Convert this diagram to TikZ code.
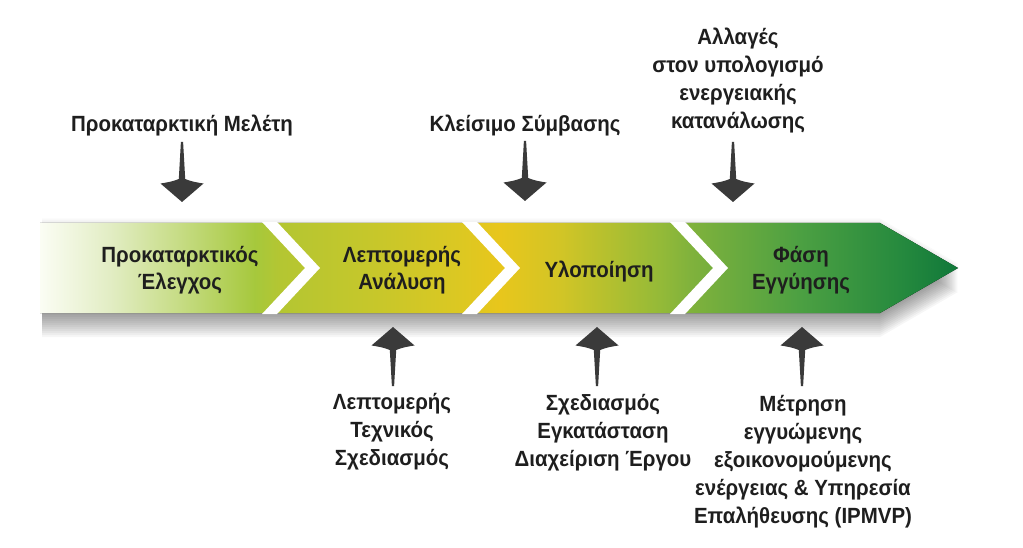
\documentclass[tikz,border=0pt]{standalone}
\usepackage{fontspec}
\setmainfont{Liberation Sans}[FakeStretch=0.93]
\definecolor{txt}{HTML}{1E1E1E}
\definecolor{arrowgray}{HTML}{3A3A3A}
\definecolor{s0}{HTML}{FBFDF4}
\definecolor{s1}{HTML}{E2EDC4}
\definecolor{s2}{HTML}{C6DC84}
\definecolor{s3}{HTML}{A6C83C}
\definecolor{s4}{HTML}{B4C632}
\definecolor{s5}{HTML}{C8C72A}
\definecolor{s6}{HTML}{DCC822}
\definecolor{s7}{HTML}{E8C61C}
\definecolor{s8}{HTML}{D2C526}
\definecolor{s9}{HTML}{94BA38}
\definecolor{s10}{HTML}{80B23C}
\definecolor{s11}{HTML}{4CA042}
\definecolor{s12}{HTML}{268A3E}
\definecolor{s13}{HTML}{10783A}
\pgfdeclarehorizontalshading{bandshade}{100bp}{%
color(0bp)=(s0); color(25bp)=(s0); color(28.81bp)=(s1); color(32.63bp)=(s2);
color(36.71bp)=(s3); color(38.07bp)=(s4); color(43.52bp)=(s5); color(47.88bp)=(s6);
color(50.05bp)=(s7); color(53.32bp)=(s8); color(58.77bp)=(s9); color(60.4bp)=(s10);
color(66.39bp)=(s11); color(71.84bp)=(s12); color(75bp)=(s13); color(100bp)=(s13)}
\tikzset{
  lbl/.style={font=\bfseries\fontsize{22}{28}\selectfont, text=txt, align=center, inner sep=0pt, anchor=base},
  chev/.style={fill=white},
  pics/downarrow/.style={code={\fill[arrowgray] (-1.1,-60) -- (1.1,-60) -- (3.2,-23)
      .. controls (9,-20.5) and (15,-19.5) .. (21.5,-18.5) -- (0,0) -- (-21.5,-18.5)
      .. controls (-15,-19.5) and (-9,-20.5) .. (-3.2,-23) -- cycle;}},
  pics/uparrow/.style={code={\fill[arrowgray] (-1.1,59) -- (1.1,59) -- (3.2,23)
      .. controls (9,20.5) and (15,19.5) .. (21.5,18.5) -- (0,0) -- (-21.5,18.5)
      .. controls (-15,19.5) and (-9,20.5) .. (-3.2,23) -- cycle;}},
}
\begin{document}
\begin{tikzpicture}[x=1pt,y=-1pt]
\useasboundingbox[fill=white] (0,0) rectangle (1023,548);
% shadow
\foreach \k in {1,...,12}{
  \fill[black,opacity=0.034,shift={(0,2*\k)}] (42,223) -- (880,223) -- (958,268) -- (880,313) -- (42,313) -- cycle;
}
\foreach \k in {1,2,3}{
  \fill[black,opacity=0.02,shift={(0,-1.5*\k)}] (42,223) -- (880,223) -- (958,268) -- (880,313) -- (42,313) -- cycle;
}
% band
\fill[shading=bandshade] (40,223) -- (880,223) -- (958,268) -- (880,313) -- (40,313) -- cycle;
% chevrons
\foreach \t in {262,462,670}{
  \fill[chev] (\t,222) -- (\t+15,222) -- (\t+58,268) -- (\t+15,314) -- (\t,314) -- (\t+43,268) -- cycle;
}
% band labels (anchor = baseline of last line)
\node[lbl] (b1) at (180,290) {Προκαταρκτικός\\Έλεγχος};
\node[lbl] (b2) at (402,290) {Λεπτομερής\\Ανάλυση};
\node[lbl] (b3) at (599,277) {Υλοποίηση};
\node[lbl] (b4) at (801,290) {Φάση\\Εγγύησης};
% top labels
\node[lbl] (t1) at (182,132) {Προκαταρκτική Μελέτη};
\node[lbl] (t2) at (525,132) {Κλείσιμο Σύμβασης};
\node[lbl] (t3) at (738,129) {Αλλαγές\\στον υπολογισμό\\ενεργειακής\\κατανάλωσης};
% bottom labels
\node[lbl] (d1) at (392,465) {Λεπτομερής\\Τεχνικός\\Σχεδιασμός};
\node[lbl] (d2) at (603,466) {Σχεδιασμός\\Εγκατάσταση\\Διαχείριση Έργου};
\node[lbl] (d3) at (803,523) {Μέτρηση\\εγγυώμενης\\εξοικονομούμενης\\ενέργειας \& Υπηρεσία\\Επαλήθευσης (IPMVP)};
% arrows
\coordinate (a1) at (182,202);
\coordinate (a2) at (525,201);
\coordinate (a3) at (733,202);
\coordinate (u1) at (393,327);
\coordinate (u2) at (597,327);
\coordinate (u3) at (802,327);
\pic (pa1) at (a1) {downarrow};
\pic (pa2) at (a2) {downarrow};
\pic (pa3) at (a3) {downarrow};
\pic (pu1) at (u1) {uparrow};
\pic (pu2) at (u2) {uparrow};
\pic (pu3) at (u3) {uparrow};
\end{tikzpicture}
\end{document}
